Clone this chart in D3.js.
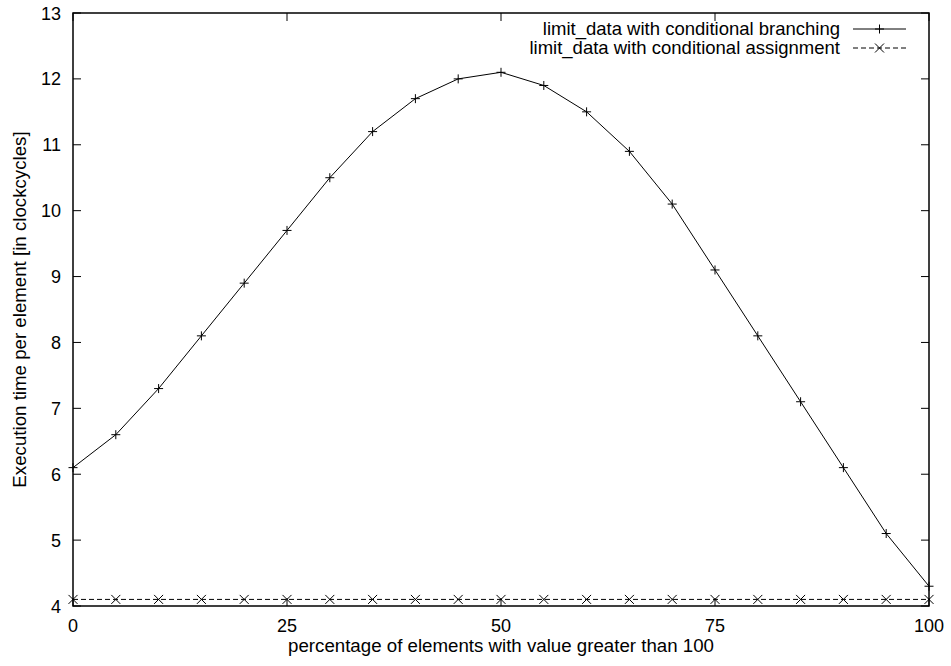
<!DOCTYPE html>
<html>
<head>
<meta charset="utf-8">
<script src="https://cdn.jsdelivr.net/npm/d3@7"></script>
<style>
body { margin: 0; background: #fff; }
text { font-family: "Liberation Sans", Arial, sans-serif; fill: #000; }
.tick-label { font-size: 18px; }
.label { font-size: 18.7px; }
.key { font-size: 18.5px; }
</style>
</head>
<body>
<div id="svgDiv"></div>
<script>
var w = 951, h = 666;

var percent = [0, 5, 10, 15, 20, 25, 30, 35, 40, 45, 50, 55, 60, 65, 70, 75, 80, 85, 90, 95, 100];
var branching = [6.1, 6.6, 7.3, 8.1, 8.9, 9.7, 10.5, 11.2, 11.7, 12.0, 12.1, 11.9, 11.5, 10.9, 10.1, 9.1, 8.1, 7.1, 6.1, 5.1, 4.3];
var assignment = [4.1, 4.1, 4.1, 4.1, 4.1, 4.1, 4.1, 4.1, 4.1, 4.1, 4.1, 4.1, 4.1, 4.1, 4.1, 4.1, 4.1, 4.1, 4.1, 4.1, 4.1];
var xTicks = [0, 25, 50, 75, 100];
var yTicks = [4, 5, 6, 7, 8, 9, 10, 11, 12, 13];
var seriesNames = ["limit_data with conditional branching", "limit_data with conditional assignment"];

// plot box
var pLeft = 73, pRight = 929, pTop = 13, pBottom = 606;

var svg = d3.select("#svgDiv")
	.append("svg")
	.attr("width", w)
	.attr("height", h);

var x = d3.scaleLinear().domain([0, 100]).range([pLeft, pRight]);
var y = d3.scaleLinear().domain([4, 13]).range([pBottom, pTop]);

// ticks on all four sides, gnuplot style
var tl = 8;
var g = svg.append("g").attr("stroke", "#000").attr("stroke-width", 1);
xTicks.forEach(function (t) {
	g.append("line").attr("x1", x(t)).attr("x2", x(t)).attr("y1", pBottom).attr("y2", pBottom - tl);
	g.append("line").attr("x1", x(t)).attr("x2", x(t)).attr("y1", pTop).attr("y2", pTop + tl);
});
yTicks.forEach(function (t) {
	g.append("line").attr("x1", pLeft).attr("x2", pLeft + tl).attr("y1", y(t)).attr("y2", y(t));
	g.append("line").attr("x1", pRight).attr("x2", pRight - tl).attr("y1", y(t)).attr("y2", y(t));
});

xTicks.forEach(function (t) {
	svg.append("text").attr("class", "tick-label").attr("x", x(t)).attr("y", pBottom + 26)
		.attr("text-anchor", "middle").text(t);
});
yTicks.forEach(function (t) {
	svg.append("text").attr("class", "tick-label").attr("x", pLeft - 12).attr("y", y(t) + 6.5)
		.attr("text-anchor", "end").text(t);
});

svg.append("text").attr("class", "label").attr("x", (pLeft + pRight) / 2).attr("y", 652)
	.attr("text-anchor", "middle")
	.text("percentage of elements with value greater than 100");
svg.append("text").attr("class", "label")
	.attr("transform", "translate(26," + ((pTop + pBottom) / 2) + ") rotate(-90)")
	.attr("text-anchor", "middle")
	.text("Execution time per element [in clockcycles]");

var line = d3.line().x(function (d) { return x(d[0]); }).y(function (d) { return y(d[1]); });

function plus(sel, cx, cy) {
	sel.append("path").attr("d", "M" + (cx - 4.5) + "," + cy + "H" + (cx + 4.5) + "M" + cx + "," + (cy - 4.5) + "V" + (cy + 4.5))
		.attr("stroke", "#000").attr("fill", "none");
}
function cross(sel, cx, cy) {
	sel.append("path").attr("d", "M" + (cx - 4.5) + "," + (cy - 4.5) + "L" + (cx + 4.5) + "," + (cy + 4.5) + "M" + (cx - 4.5) + "," + (cy + 4.5) + "L" + (cx + 4.5) + "," + (cy - 4.5))
		.attr("stroke", "#000").attr("fill", "none");
}

var d1 = percent.map(function (p, i) { return [p, branching[i]]; });
var d2 = percent.map(function (p, i) { return [p, assignment[i]]; });

svg.append("path").datum(d1).attr("d", line).attr("fill", "none").attr("stroke", "#000");
d1.forEach(function (d) { plus(svg, x(d[0]), y(d[1])); });

svg.append("path").datum(d2).attr("d", line).attr("fill", "none").attr("stroke", "#000").attr("stroke-dasharray", "5,3");
d2.forEach(function (d) { cross(svg, x(d[0]), y(d[1])); });

// legend, top right inside the box
var ly = [29, 48];
var lx = 840, s0 = 853, s1 = 906;
svg.append("text").attr("class", "key").attr("x", lx).attr("y", ly[0] + 6).attr("text-anchor", "end").text(seriesNames[0]);
svg.append("line").attr("x1", s0).attr("x2", s1).attr("y1", ly[0]).attr("y2", ly[0]).attr("stroke", "#000");
plus(svg, (s0 + s1) / 2, ly[0]);
svg.append("text").attr("class", "key").attr("x", lx).attr("y", ly[1] + 6).attr("text-anchor", "end").text(seriesNames[1]);
svg.append("line").attr("x1", s0).attr("x2", s1).attr("y1", ly[1]).attr("y2", ly[1]).attr("stroke", "#000").attr("stroke-dasharray", "5,3");
cross(svg, (s0 + s1) / 2, ly[1]);

// frame
svg.append("rect").attr("x", pLeft).attr("y", pTop).attr("width", pRight - pLeft).attr("height", pBottom - pTop)
	.attr("fill", "none").attr("stroke", "#000").attr("stroke-width", 1.5);
</script>
</body>
</html>
